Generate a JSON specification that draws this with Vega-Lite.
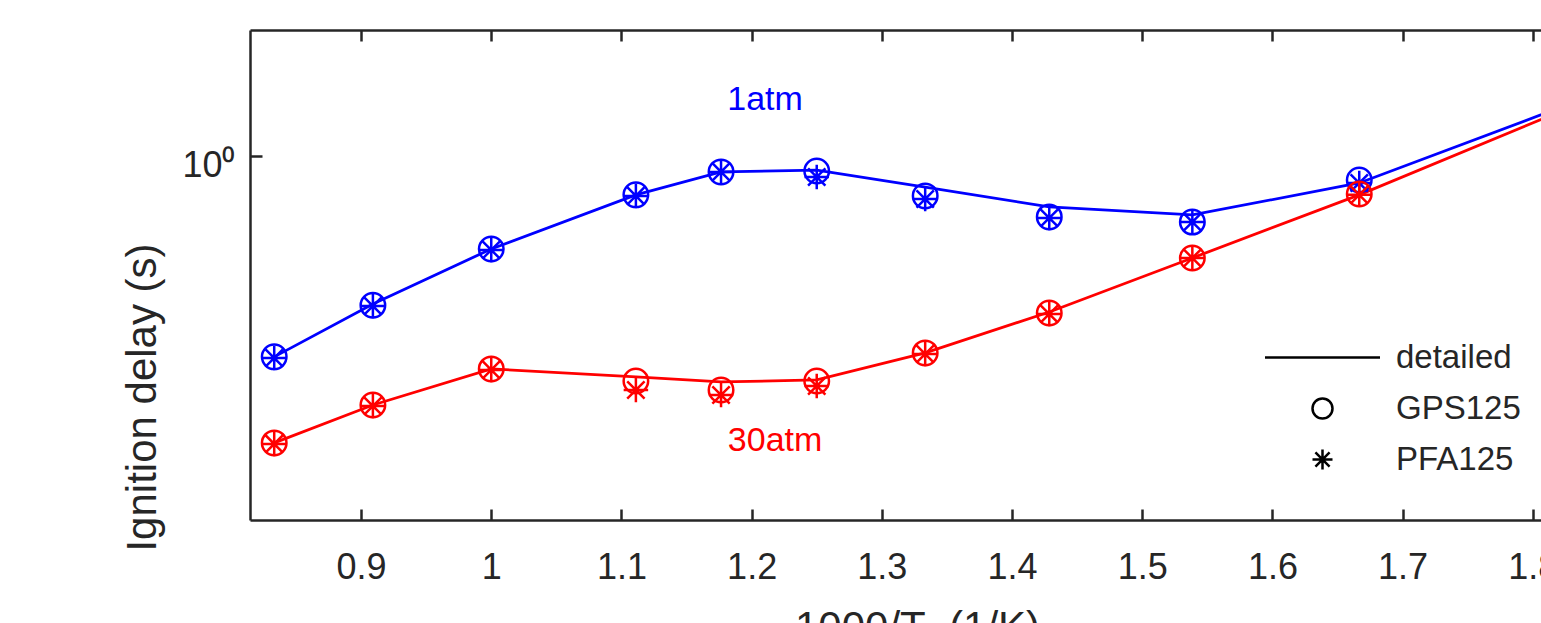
{
  "$schema": "https://vega.github.io/schema/vega-lite/v6.json",
  "width": 1291,
  "height": 490,
  "autosize": {"type": "none"},
  "padding": {"left": 250, "top": 30, "right": 0, "bottom": 103},
  "background": "white",
  "config": {
    "view": {"stroke": null},
    "font": "Liberation Sans",
    "axis": {
      "grid": false,
      "domainColor": "#262626",
      "domainWidth": 2.5,
      "tickColor": "#262626",
      "tickWidth": 2.5,
      "labelColor": "#262626",
      "titleColor": "#262626",
      "labelFont": "Liberation Sans",
      "titleFont": "Liberation Sans",
      "titleFontWeight": "normal",
      "labelFontSize": 36,
      "titleFontSize": 42,
      "labelFlush": false,
      "labelOverlap": false
    }
  },
  "data": {
    "values": [
      {"x": 0.8333, "y": 0.389, "pressure": "1atm", "model": "detailed"},
      {"x": 0.9091, "y": 0.499, "pressure": "1atm", "model": "detailed"},
      {"x": 1.0, "y": 0.646, "pressure": "1atm", "model": "detailed"},
      {"x": 1.1111, "y": 0.833, "pressure": "1atm", "model": "detailed"},
      {"x": 1.1765, "y": 0.928, "pressure": "1atm", "model": "detailed"},
      {"x": 1.25, "y": 0.936, "pressure": "1atm", "model": "detailed"},
      {"x": 1.3333, "y": 0.864, "pressure": "1atm", "model": "detailed"},
      {"x": 1.4286, "y": 0.787, "pressure": "1atm", "model": "detailed"},
      {"x": 1.5385, "y": 0.758, "pressure": "1atm", "model": "detailed"},
      {"x": 1.6667, "y": 0.881, "pressure": "1atm", "model": "detailed"},
      {"x": 1.8182, "y": 1.247, "pressure": "1atm", "model": "detailed"},
      {"x": 0.8333, "y": 0.389, "pressure": "1atm", "model": "GPS125"},
      {"x": 0.9091, "y": 0.496, "pressure": "1atm", "model": "GPS125"},
      {"x": 1.0, "y": 0.646, "pressure": "1atm", "model": "GPS125"},
      {"x": 1.1111, "y": 0.833, "pressure": "1atm", "model": "GPS125"},
      {"x": 1.1765, "y": 0.928, "pressure": "1atm", "model": "GPS125"},
      {"x": 1.25, "y": 0.932, "pressure": "1atm", "model": "GPS125"},
      {"x": 1.3333, "y": 0.829, "pressure": "1atm", "model": "GPS125"},
      {"x": 1.4286, "y": 0.751, "pressure": "1atm", "model": "GPS125"},
      {"x": 1.5385, "y": 0.733, "pressure": "1atm", "model": "GPS125"},
      {"x": 1.6667, "y": 0.893, "pressure": "1atm", "model": "GPS125"},
      {"x": 1.8182, "y": 1.247, "pressure": "1atm", "model": "GPS125"},
      {"x": 0.8333, "y": 0.387, "pressure": "1atm", "model": "PFA125"},
      {"x": 0.9091, "y": 0.494, "pressure": "1atm", "model": "PFA125"},
      {"x": 1.0, "y": 0.643, "pressure": "1atm", "model": "PFA125"},
      {"x": 1.1111, "y": 0.829, "pressure": "1atm", "model": "PFA125"},
      {"x": 1.1765, "y": 0.928, "pressure": "1atm", "model": "PFA125"},
      {"x": 1.25, "y": 0.906, "pressure": "1atm", "model": "PFA125"},
      {"x": 1.3333, "y": 0.817, "pressure": "1atm", "model": "PFA125"},
      {"x": 1.4286, "y": 0.747, "pressure": "1atm", "model": "PFA125"},
      {"x": 1.5385, "y": 0.733, "pressure": "1atm", "model": "PFA125"},
      {"x": 1.6667, "y": 0.881, "pressure": "1atm", "model": "PFA125"},
      {"x": 1.8182, "y": 1.247, "pressure": "1atm", "model": "PFA125"},
      {"x": 0.8333, "y": 0.2596, "pressure": "30atm", "model": "detailed"},
      {"x": 0.9091, "y": 0.3102, "pressure": "30atm", "model": "detailed"},
      {"x": 1.0, "y": 0.3676, "pressure": "30atm", "model": "detailed"},
      {"x": 1.1111, "y": 0.354, "pressure": "30atm", "model": "detailed"},
      {"x": 1.1765, "y": 0.3458, "pressure": "30atm", "model": "detailed"},
      {"x": 1.25, "y": 0.349, "pressure": "30atm", "model": "detailed"},
      {"x": 1.3333, "y": 0.3963, "pressure": "30atm", "model": "detailed"},
      {"x": 1.4286, "y": 0.4804, "pressure": "30atm", "model": "detailed"},
      {"x": 1.5385, "y": 0.6193, "pressure": "30atm", "model": "detailed"},
      {"x": 1.6667, "y": 0.833, "pressure": "30atm", "model": "detailed"},
      {"x": 1.8182, "y": 1.224, "pressure": "30atm", "model": "detailed"},
      {"x": 0.8333, "y": 0.2596, "pressure": "30atm", "model": "GPS125"},
      {"x": 0.9091, "y": 0.3102, "pressure": "30atm", "model": "GPS125"},
      {"x": 1.0, "y": 0.3676, "pressure": "30atm", "model": "GPS125"},
      {"x": 1.1111, "y": 0.3474, "pressure": "30atm", "model": "GPS125"},
      {"x": 1.1765, "y": 0.333, "pressure": "30atm", "model": "GPS125"},
      {"x": 1.25, "y": 0.3474, "pressure": "30atm", "model": "GPS125"},
      {"x": 1.3333, "y": 0.3963, "pressure": "30atm", "model": "GPS125"},
      {"x": 1.4286, "y": 0.4782, "pressure": "30atm", "model": "GPS125"},
      {"x": 1.5385, "y": 0.6193, "pressure": "30atm", "model": "GPS125"},
      {"x": 1.6667, "y": 0.8366, "pressure": "30atm", "model": "GPS125"},
      {"x": 1.8182, "y": 1.224, "pressure": "30atm", "model": "GPS125"},
      {"x": 0.8333, "y": 0.2584, "pressure": "30atm", "model": "PFA125"},
      {"x": 0.9091, "y": 0.3089, "pressure": "30atm", "model": "PFA125"},
      {"x": 1.0, "y": 0.3659, "pressure": "30atm", "model": "PFA125"},
      {"x": 1.1111, "y": 0.333, "pressure": "30atm", "model": "PFA125"},
      {"x": 1.1765, "y": 0.3252, "pressure": "30atm", "model": "PFA125"},
      {"x": 1.25, "y": 0.3393, "pressure": "30atm", "model": "PFA125"},
      {"x": 1.3333, "y": 0.3944, "pressure": "30atm", "model": "PFA125"},
      {"x": 1.4286, "y": 0.476, "pressure": "30atm", "model": "PFA125"},
      {"x": 1.5385, "y": 0.6193, "pressure": "30atm", "model": "PFA125"},
      {"x": 1.6667, "y": 0.833, "pressure": "30atm", "model": "PFA125"},
      {"x": 1.8182, "y": 1.224, "pressure": "30atm", "model": "PFA125"}
    ]
  },
  "layer": [
    {
      "transform": [{"filter": "datum.model === 'detailed'"}],
      "mark": {"type": "line", "clip": true, "strokeWidth": 2.8},
      "encoding": {
        "x": {
          "field": "x", "type": "quantitative",
          "scale": {"domain": [0.8147, 1.8063], "nice": false, "zero": false},
          "axis": {
            "orient": "bottom",
            "values": [0.9, 1, 1.1, 1.2, 1.3, 1.4, 1.5, 1.6, 1.7, 1.8],
            "format": "~g",
            "tickSize": -11,
            "labelPadding": 69,
            "labelBaseline": "alphabetic",
            "title": "1000/T\u00a0\u00a0(1/K)",
            "titleX": 667,
            "titleY": 120,
            "titleBaseline": "alphabetic"
          }
        },
        "y": {
          "field": "y", "type": "quantitative",
          "scale": {"type": "log", "domain": [0.1807, 1.808], "nice": false},
          "axis": {
            "orient": "left",
            "values": [1],
            "labelExpr": "'10⁰'",
            "tickSize": -12,
            "labelPadding": 27,
            "labelBaseline": "alphabetic",
            "labelOffset": 21,
            "title": "Ignition delay (s)",
            "titleX": -95,
            "titleY": 367,
            "titleBaseline": "alphabetic",
            "titleAngle": -90
          }
        },
        "color": {
          "field": "pressure", "type": "nominal",
          "scale": {"domain": ["1atm", "30atm"], "range": ["#0000FF", "#FF0000"]},
          "legend": null
        }
      }
    },
    {
      "transform": [{"filter": "datum.model !== 'detailed'"}],
      "mark": {"type": "point", "clip": true, "filled": false, "strokeWidth": 2.5, "size": 600, "opacity": 1},
      "encoding": {
        "x": {
          "field": "x", "type": "quantitative",
          "axis": {
            "orient": "top",
            "values": [0.9, 1, 1.1, 1.2, 1.3, 1.4, 1.5, 1.6, 1.7, 1.8],
            "labels": false,
            "tickSize": -11,
            "title": null
          }
        },
        "y": {"field": "y", "type": "quantitative", "axis": null},
        "color": {"field": "pressure", "type": "nominal", "legend": null},
        "shape": {
          "field": "model", "type": "nominal",
          "scale": {
            "domain": ["detailed", "GPS125", "PFA125"],
            "range": ["M-5.75,0L5.75,0", "circle", "M-1,0L1,0M0,-1L0,1M-0.7071,-0.7071L0.7071,0.7071M-0.7071,0.7071L0.7071,-0.7071"]
          },
          "legend": {
            "orient": "none",
            "legendX": 1056,
            "legendY": 311,
            "title": null,
            "padding": 0,
            "symbolSize": 400,
            "symbolStrokeColor": "#000000",
            "symbolFillColor": "transparent",
            "symbolStrokeWidth": 2.5,
            "labelFontSize": 33,
            "labelFont": "Liberation Sans",
            "labelColor": "#262626",
            "labelOffset": 57,
            "rowPadding": 17
          }
        }
      }
    },
    {
      "data": {
        "values": [
          {"x": 1.2103, "y": 1.301, "label": "1atm", "pressure": "1atm"},
          {"x": 1.218, "y": 0.262, "label": "30atm", "pressure": "30atm"}
        ]
      },
      "mark": {"type": "text", "fontSize": 34, "font": "Liberation Sans", "align": "center", "baseline": "middle"},
      "encoding": {
        "x": {"field": "x", "type": "quantitative", "axis": null},
        "y": {"field": "y", "type": "quantitative", "axis": null},
        "text": {"field": "label"},
        "color": {"field": "pressure", "type": "nominal", "legend": null}
      }
    }
  ],
  "resolve": {"axis": {"x": "independent", "y": "independent"}}
}
